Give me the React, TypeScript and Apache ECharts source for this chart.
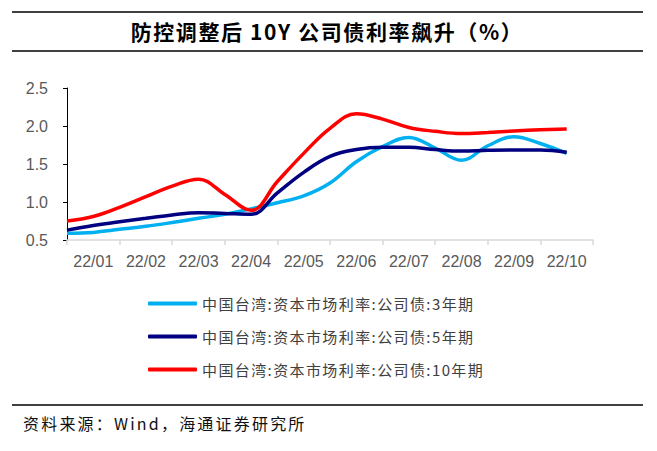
import React, { useEffect, useRef } from "react";
import * as echarts from "echarts";

const months = ["22/01", "22/02", "22/03", "22/04", "22/05", "22/06", "22/07", "22/08", "22/09", "22/10"];
// position in months since start of 22/01
const monthPos = [0, 0.5, 1, 1.5, 2, 2.5, 3, 3.5, 4, 4.5, 5, 5.5, 6, 6.5, 7, 7.5, 8, 8.5, 9, 9.5];
const bond3Y = [0.59, 0.6, 0.64, 0.68, 0.73, 0.785, 0.84, 0.91, 0.99, 1.08, 1.25, 1.53, 1.73, 1.85, 1.71, 1.55, 1.74, 1.86, 1.77, 1.64];
const bond5Y = [0.63, 0.69, 0.74, 0.785, 0.83, 0.86, 0.85, 0.84, 1.12, 1.39, 1.6, 1.69, 1.72, 1.72, 1.69, 1.67, 1.68, 1.685, 1.685, 1.655];
const bond10Y = [0.75, 0.81, 0.93, 1.07, 1.21, 1.3, 1.1, 0.89, 1.27, 1.64, 1.97, 2.16, 2.09, 1.98, 1.93, 1.9, 1.915, 1.935, 1.95, 1.96];
const seriesNames = [
  "中国台湾:资本市场利率:公司债:3年期",
  "中国台湾:资本市场利率:公司债:5年期",
  "中国台湾:资本市场利率:公司债:10年期",
];
const seriesColors = ["#00B0F0", "#000080", "#FF0000"];
const titleText = "防控调整后 10Y 公司债利率飙升（%）";
const sourceText = "资料来源：Wind，海通证券研究所";

const TITLE_FONT = '"Noto Sans CJK SC", "DejaVu Sans"';
const LEGEND_FONT = '"Noto Sans CJK SC", Inter';
const SOURCE_FONT = '"Noto Sans CJK SC", Lato';
const LAT = '"Liberation Sans", Arial, sans-serif';

export default function App() {
  const ref = useRef<HTMLDivElement>(null);
  useEffect(() => {
    if (!ref.current) return;
    const chart = echarts.init(ref.current, null, { renderer: "svg" });
    const allSeries = [bond3Y, bond5Y, bond10Y];
    chart.setOption({
      animation: false,
      backgroundColor: "#fff",
      grid: { left: 67, right: 64, top: 88, bottom: 211 },
      xAxis: [
        {
          type: "category",
          data: months,
          boundaryGap: true,
          axisLine: { show: true, lineStyle: { color: "#d9d9d9", width: 1.5 } },
          axisTick: { show: true, alignWithLabel: false, length: 5, lineStyle: { color: "#d9d9d9", width: 1.5 } },
          axisLabel: { color: "#595959", fontSize: 16, fontFamily: LAT, margin: 13 },
          splitLine: { show: false },
        },
        { type: "value", min: 0, max: 10, show: false },
      ],
      yAxis: {
        type: "value",
        min: 0.5,
        max: 2.5,
        interval: 0.5,
        axisLine: { show: true, lineStyle: { color: "#000", width: 1 } },
        axisTick: { show: true, length: 4, lineStyle: { color: "#000" } },
        axisLabel: {
          color: "#595959",
          fontSize: 16,
          fontFamily: LAT,
          margin: 19,
          formatter: (v: number) => v.toFixed(1),
        },
        splitLine: { show: false },
      },
      legend: {
        orient: "vertical",
        left: 143,
        top: 291,
        itemWidth: 49,
        itemHeight: 4,
        itemGap: 18,
        icon: "roundRect",
        textStyle: { color: "#404040", fontSize: 15, fontFamily: LEGEND_FONT },
        data: seriesNames,
      },
      series: seriesNames.map((name, i) => ({
        name,
        type: "line",
        xAxisIndex: 1,
        smooth: 0.4,
        showSymbol: false,
        symbol: "none",
        lineStyle: { color: seriesColors[i], width: 3.5 },
        itemStyle: { color: seriesColors[i] },
        data: monthPos.map((t, k) => [t, allSeries[i][k]]),
      })),
      graphic: [
        { type: "line", shape: { x1: 12, y1: 12, x2: 643, y2: 12 }, style: { stroke: "#000", lineWidth: 1.3 } },
        { type: "line", shape: { x1: 12, y1: 51, x2: 643, y2: 51 }, style: { stroke: "#000", lineWidth: 1.3 } },
        { type: "line", shape: { x1: 12, y1: 405, x2: 643, y2: 405 }, style: { stroke: "#000", lineWidth: 1.3 } },
        {
          type: "text",
          x: 327,
          y: 31,
          style: {
            text: titleText,
            fill: "#000",
            font: `bold 21px ${TITLE_FONT}`,
            textAlign: "center",
            textVerticalAlign: "middle",
          },
        },
        {
          type: "text",
          x: 23,
          y: 423,
          style: {
            text: sourceText,
            fill: "#111",
            font: `16px ${SOURCE_FONT}`,
            textAlign: "left",
            textVerticalAlign: "middle",
          },
        },
      ],
    });
    return () => chart.dispose();
  }, []);
  return (
    <>
      <style>{`
        .chartbox text[style*="DejaVu"], .chartbox text[font-family*="DejaVu"] { letter-spacing: 1.6px; }
        .chartbox text[style*="Inter"], .chartbox text[font-family*="Inter"] { letter-spacing: 1.4px; }
        .chartbox text[style*="Lato"], .chartbox text[font-family*="Lato"] { letter-spacing: 2.2px; }
      `}</style>
      <div
        ref={ref}
        className="chartbox"
        style={{ position: "fixed", left: 0, top: 0, width: 657, height: 451, background: "#fff" }}
      />
    </>
  );
}
